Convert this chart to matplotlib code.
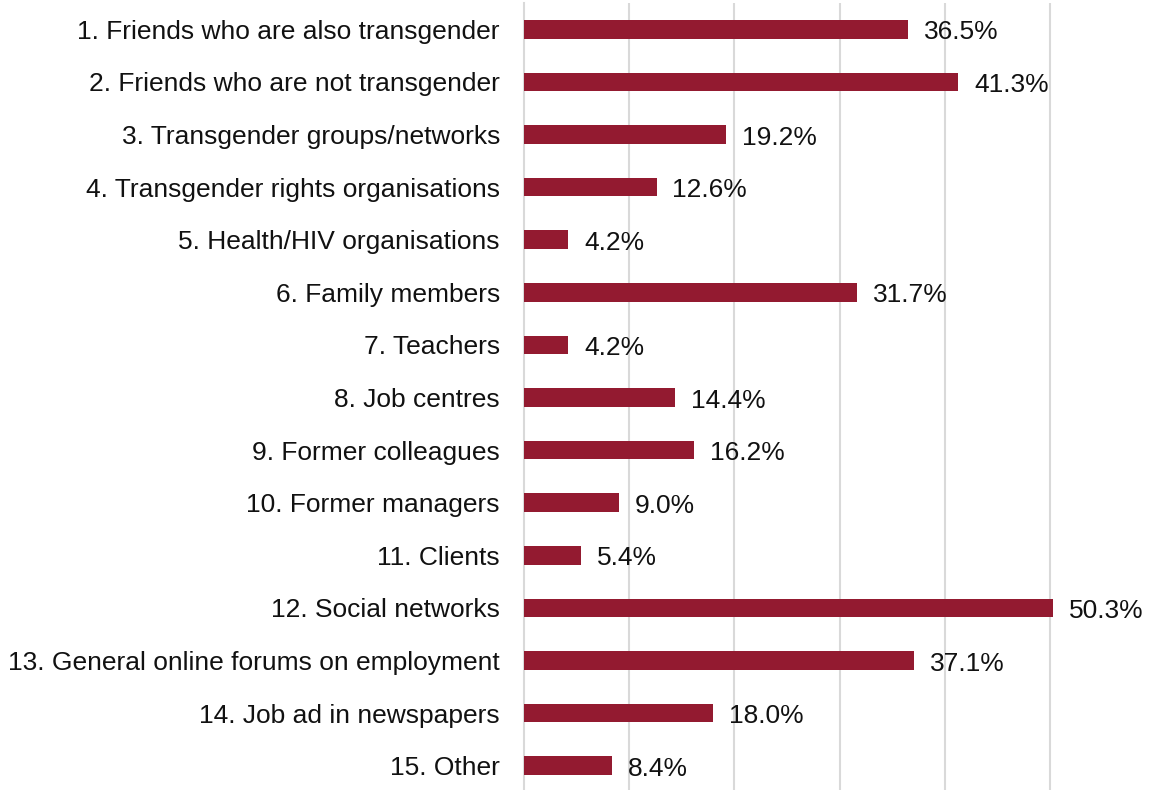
import matplotlib
matplotlib.use("Agg")
import matplotlib.pyplot as plt

categories = [
    "1. Friends who are also transgender",
    "2. Friends who are not transgender",
    "3. Transgender groups/networks",
    "4. Transgender rights organisations",
    "5. Health/HIV organisations",
    "6. Family members",
    "7. Teachers",
    "8. Job centres",
    "9. Former colleagues",
    "10. Former managers",
    "11. Clients",
    "12. Social networks",
    "13. General online forums on employment",
    "14. Job ad in newspapers",
    "15. Other",
]
values = [36.5, 41.3, 19.2, 12.6, 4.2, 31.7, 4.2, 14.4, 16.2, 9.0, 5.4, 50.3, 37.1, 18.0, 8.4]

plt.rcParams['font.family'] = ['Liberation Sans', 'DejaVu Sans']

fig = plt.figure(figsize=(11.54, 7.90), dpi=100)
ax = fig.add_axes([524/1154, -2/790, (1154-524)/1154, 789/790])

y = list(range(len(categories)))
ax.barh(y, values, height=0.35, color="#931A30", zorder=3)
for yi, v in zip(y, values):
    ax.text(v + 1.5, yi + 0.01, f"{v:.1f}%", va="center_baseline", ha="left",
            fontsize=19, color="#111111")

ax.set_ylim(len(categories) - 0.5, -0.5)
ax.set_xlim(0, 59.9)
ax.set_yticks(y)
ax.set_yticklabels(categories, fontsize=19, color="#111111", va="center_baseline")
ax.set_xticks([10, 20, 30, 40, 50])
ax.tick_params(axis="x", length=0, labelbottom=False)
ax.tick_params(axis="y", length=0, pad=17.3)
ax.grid(axis="x", color="#D9D9D9", linewidth=1.5, zorder=0)
for s in ["top", "right", "bottom"]:
    ax.spines[s].set_visible(False)
ax.spines["left"].set_color("#D9D9D9")
ax.spines["left"].set_linewidth(1.5)

fig.savefig("out.png", dpi=100)
